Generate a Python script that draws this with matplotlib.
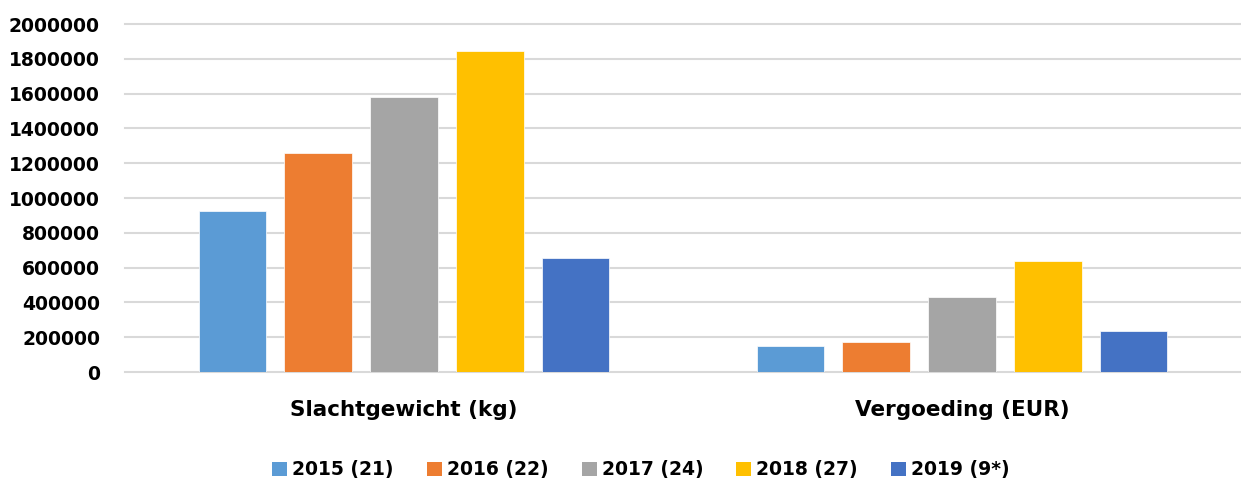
import numpy as np
import matplotlib.pyplot as plt
from matplotlib.patches import Patch

categories = ['Slachtgewicht (kg)', 'Vergoeding (EUR)']
series_labels = ['2015 (21)', '2016 (22)', '2017 (24)', '2018 (27)', '2019 (9*)']
values_2015 = [925000, 149000]
values_2016 = [1259000, 172000]
values_2017 = [1578000, 430000]
values_2018 = [1842000, 638000]
values_2019 = [653000, 234000]
colors = ['#5B9BD5', '#ED7D31', '#A5A5A5', '#FFC000', '#4472C4']

series = [values_2015, values_2016, values_2017, values_2018, values_2019]

plt.rcParams['font.family'] = 'DejaVu Sans'
plt.rcParams['font.weight'] = 'bold'

fig = plt.figure(figsize=(12.41, 4.79), dpi=100)
ax = fig.add_axes([125 / 1241, 1 - 372 / 479, 1 - 125 / 1241, 348 / 479])

x = np.arange(len(categories))
width = 68 / 560
step = 86 / 560
for i, (vals, col) in enumerate(zip(series, colors)):
    ax.bar(x + (i - 2) * step, vals, width, color=col, edgecolor='white',
           linewidth=0.5, zorder=3)

ax.set_xlim(-0.5, 1.5)
ax.set_ylim(0, 2000000)
ax.set_yticks(range(0, 2000001, 200000))
ax.set_yticklabels([str(v) for v in range(0, 2000001, 200000)])
ax.set_xticks(x)
ax.set_xticklabels(categories, fontsize=15.5, fontweight='bold')
ax.tick_params(axis='y', length=0, pad=18, labelsize=13.5)
ax.tick_params(axis='x', length=0, pad=20)

ax.grid(axis='y', color='#D9D9D9', linewidth=1.5, zorder=0)
for gl in ax.get_ygridlines():
    gl.set_clip_on(False)
for s in ax.spines.values():
    s.set_visible(False)

handles = [Patch(facecolor=c, edgecolor='none') for c in colors]
fig.legend(handles, series_labels, loc='center', ncol=5,
           bbox_to_anchor=(641 / 1241, 1 - 470 / 479), frameon=False,
           prop={'size': 13.5, 'weight': 'bold'},
           handlelength=0.8, handleheight=0.8, handletextpad=0.27,
           columnspacing=1.76)

fig.savefig('out.png', dpi=100)
